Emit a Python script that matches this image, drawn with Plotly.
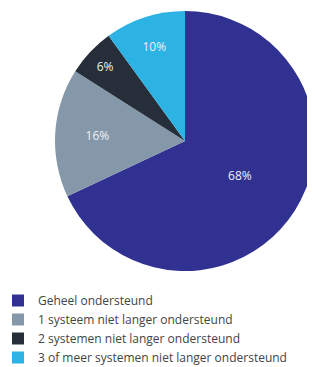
import plotly.graph_objects as go

labels = ["Geheel ondersteund", "1 systeem niet langer ondersteund",
          "2 systemen niet langer ondersteund", "3 of meer systemen niet langer ondersteund"]
values = [68, 16, 6, 10]
colors = ["#313192", "#8598AA", "#252E39", "#2CB3E3"]

# page body has an 8px margin; size the figure to fit the remaining window
W, H = 307, 359
fig = go.Figure(go.Pie(
    labels=labels, values=values, sort=False, direction="clockwise", rotation=0,
    marker=dict(colors=colors, line=dict(width=0)),
    textinfo="percent", textposition="inside",
    insidetextfont=dict(color="#F0F0F0", size=12, family="Open Sans"),
    insidetextorientation="horizontal",
    domain=dict(x=[47 / W, 1], y=[1 - 263 / H, 1 - 3 / H]),
    hoverinfo="label+percent",
))
fig.update_layout(
    width=W, height=H, margin=dict(l=0, r=0, t=0, b=0, autoexpand=False),
    paper_bgcolor="white", plot_bgcolor="white",
    showlegend=True,
    legend=dict(x=-10 / W, y=1 - 278 / H, xanchor="left", yanchor="top",
                font=dict(family="Open Sans", size=12, color="#444444"),
                itemwidth=30, tracegroupgap=0, bgcolor="rgba(0,0,0,0)"),
    font=dict(family="Open Sans"),
)
fig.write_html("out.html")
